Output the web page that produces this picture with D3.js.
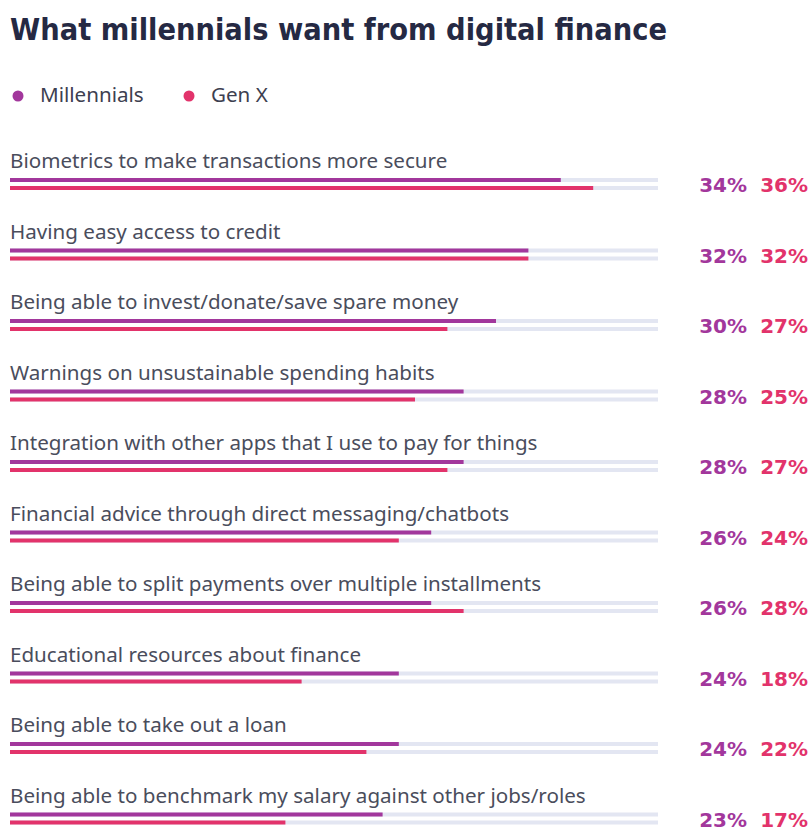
<!DOCTYPE html>
<html>
<head>
<meta charset="utf-8">
<script src="https://cdn.jsdelivr.net/npm/d3@7"></script>
<style>
  html, body { margin: 0; padding: 0; background: #ffffff; }
  svg { display: block; }
</style>
</head>
<body>
<svg id="chart" width="812" height="832"></svg>
<script>
const categories = [
  "Biometrics to make transactions more secure",
  "Having easy access to credit",
  "Being able to invest/donate/save spare money",
  "Warnings on unsustainable spending habits",
  "Integration with other apps that I use to pay for things",
  "Financial advice through direct messaging/chatbots",
  "Being able to split payments over multiple installments",
  "Educational resources about finance",
  "Being able to take out a loan",
  "Being able to benchmark my salary against other jobs/roles"
];
const millennials = [34, 32, 30, 28, 28, 26, 26, 24, 24, 23];
const genX        = [36, 32, 27, 25, 27, 24, 28, 18, 22, 17];
const seriesNames = ["Millennials", "Gen X"];

const colors = { millennials: "#a2379c", genX: "#e2336b", track: "#e3e6f2" };
const bodyFont = "'Noto Sans', sans-serif";

const rows = categories.map((c, i) => ({ name: c, m: millennials[i], g: genX[i] }));

const svg = d3.select("#chart");

// value scale: full track represents 40%
const x = d3.scaleLinear().domain([0, 40]).range([10, 658]);
// one band per question
const y = d3.scaleBand().domain(categories).range([148, 853]);

// title
svg.append("text")
  .attr("x", 10).attr("y", 40)
  .attr("font-family", "'DejaVu Sans', sans-serif")
  .attr("font-weight", 700)
  .attr("font-size", 30)
  .attr("fill", "#252943")
  .attr("textLength", 657)
  .attr("lengthAdjust", "spacingAndGlyphs")
  .text("What millennials want from digital finance");

// legend
const legend = svg.append("g");
const legendX = [18, 189];
seriesNames.forEach((s, i) => {
  legend.append("circle")
    .attr("cx", legendX[i]).attr("cy", 96).attr("r", 5.5)
    .attr("fill", i === 0 ? colors.millennials : colors.genX);
  legend.append("text")
    .attr("x", legendX[i] + 22).attr("y", 102)
    .attr("font-family", bodyFont)
    .attr("font-size", 18)
    .attr("fill", "#3d4050")
    .text(s);
});

const row = svg.selectAll("g.row").data(rows).join("g")
  .attr("class", "row")
  .attr("transform", d => `translate(0,${y(d.name)})`);

const labels = row.append("text")
  .attr("x", 10).attr("y", 20)
  .attr("font-family", bodyFont)
  .attr("font-size", 18)
  .attr("fill", "#4a4d5c")
  .text(d => d.name);

// size the question labels so the longest one spans 576px
const longest = d3.max(labels.nodes(), n => n.getComputedTextLength());
labels.attr("font-size", 18 * 576 / longest);
legend.selectAll("text").attr("font-size", 18 * 576 / longest);

const barH = 4;
const barY = [32, 40];

// background tracks
barY.forEach(by => {
  row.append("rect")
    .attr("x", x(0)).attr("y", by - barH / 2)
    .attr("width", x(40) - x(0)).attr("height", barH)
    .attr("fill", colors.track);
});

row.append("rect")
  .attr("x", x(0)).attr("y", barY[0] - barH / 2)
  .attr("width", d => x(d.m) - x(0)).attr("height", barH)
  .attr("fill", colors.millennials);

row.append("rect")
  .attr("x", x(0)).attr("y", barY[1] - barH / 2)
  .attr("width", d => x(d.g) - x(0)).attr("height", barH)
  .attr("fill", colors.genX);

row.append("text")
  .attr("x", 747).attr("y", 44)
  .attr("text-anchor", "end")
  .attr("font-family", "'DejaVu Sans', sans-serif")
  .attr("font-weight", 700)
  .attr("font-size", 20)
  .attr("fill", colors.millennials)
  .text(d => d.m + "%");

row.append("text")
  .attr("x", 808).attr("y", 44)
  .attr("text-anchor", "end")
  .attr("font-family", "'DejaVu Sans', sans-serif")
  .attr("font-weight", 700)
  .attr("font-size", 20)
  .attr("fill", colors.genX)
  .text(d => d.g + "%");
</script>
</body>
</html>
